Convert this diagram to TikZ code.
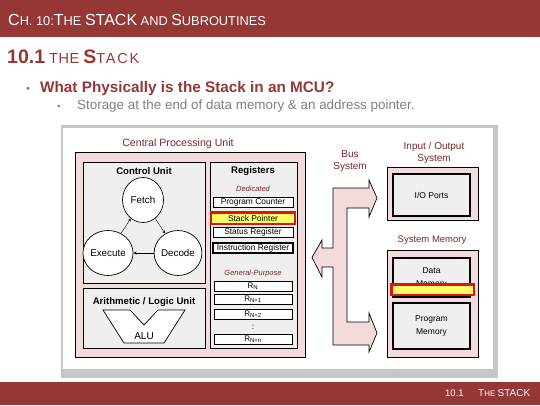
\documentclass[tikz,border=0pt]{standalone}
\usepackage{fontspec}
\setmainfont{Liberation Sans}
\usepackage{tikz}
\usetikzlibrary{shapes.geometric}
\definecolor{slidered}{RGB}{149,55,53}
\definecolor{labelred}{RGB}{118,42,42}
\definecolor{pinkfill}{RGB}{242,220,219}
\definecolor{panelgray}{RGB}{239,239,239}
\definecolor{hlyellow}{RGB}{255,255,102}
\definecolor{hlred}{RGB}{226,18,18}
\definecolor{subgray}{RGB}{127,127,127}
\newcommand{\capbig}[1]{{\fontsize{16}{18}\selectfont #1}}
\newcommand{\capsect}[1]{{\bfseries\fontsize{19.5}{20}\selectfont #1}}

\begin{document}
\begin{tikzpicture}[x=1pt,y=-1pt,
      every node/.style={inner sep=0pt,font=\fontsize{8.5}{13}\selectfont},
      pinkbox/.style={draw,fill=pinkfill,line width=0.7pt},
      panel/.style={draw,fill=panelgray,line width=0.7pt},
      membox/.style={draw,fill=panelgray,line width=1.1pt,minimum width=77pt,align=center},
      reg/.style={draw,fill=white,line width=0.7pt,minimum width=80pt,minimum height=10pt,
        font=\fontsize{8.4}{9}\selectfont},
      rgp/.style={reg,minimum width=78pt,font=\fontsize{8}{9}\selectfont},
      hilite/.style={draw=hlred,line width=2.5pt,fill=hlyellow},
      stage/.style={ellipse,draw,fill=white,line width=0.7pt,minimum width=41pt,minimum height=45pt,
        font=\fontsize{9.8}{11}\selectfont},
      heading/.style={text=labelred,font=\fontsize{10}{12}\selectfont,align=center},
      unittitle/.style={font=\bfseries\fontsize{9.6}{10}\selectfont},
      regkind/.style={text=labelred,font=\itshape\fontsize{7.5}{8}\selectfont},
      >=stealth]
  \useasboundingbox (0,0) rectangle (540,405);
  % slide header and footer
  \fill[slidered] (0,0) rectangle (540,37);
  \fill[slidered] (0,382) rectangle (540,405);
  \node[anchor=base west,text=white,font=\fontsize{12.8}{14}\selectfont] (title) at (8,25)
    {\capbig{C}H. 10:\capbig{T}HE \capbig{STACK} AND \capbig{S}UBROUTINES};
  \node[anchor=base west,text=slidered,font=\fontsize{14.5}{16}\selectfont] (sect) at (7,63)
    {\capsect{10.1} {\addfontfeature{LetterSpace=4}THE} \capsect{S}{\addfontfeature{LetterSpace=12}TACK}};
  \node[anchor=base,text=subgray,font=\fontsize{11}{12}\selectfont] (qdot) at (28,92) {\textbullet};
  \node[anchor=base west,text=slidered,font=\bfseries\fontsize{15.3}{16}\selectfont] (question) at (40,92)
    {What Physically is the Stack in an MCU?};
  \node[anchor=base,text=subgray,font=\fontsize{9}{10}\selectfont] (adot) at (59,109) {\textbullet};
  \node[anchor=base west,text=subgray,font=\fontsize{13.4}{14}\selectfont] (answer) at (77,109)
    {Storage at the end of data memory \& an address pointer.};
  \node[anchor=base west,text=white,font=\fontsize{9.5}{10}\selectfont] (ftnum) at (445,396) {10.1};
  \node[anchor=base west,text=white,font=\fontsize{8}{10}\selectfont] (fttitle) at (478,396)
    {{\fontsize{10}{10}\selectfont T}HE {\fontsize{10}{10}\selectfont STACK}};

  % picture frame
  \fill[gray!45] (61,125) rectangle (498,378);
  \fill[white] (63,128) rectangle (493,369);

  % CPU
  \node[heading,font=\fontsize{10.6}{12}\selectfont] (cpulbl) at (178,144) {Central Processing Unit};
  \draw[pinkbox] (75,152) rectangle (305,357);
  \draw[panel] (83,162) rectangle (205,283);
  \node[unittitle] (cutitle) at (144,171) {Control Unit};
  \node[stage] (fetch) at (143,200) {Fetch};
  \node[stage] (execute) at (108,253) {Execute};
  \node[stage] (decode) at (178,253) {Decode};
  \draw[->] (execute) -- (fetch);
  \draw[->] (fetch) -- (decode);
  \draw[->] (decode) -- (execute);

  \draw[panel] (83,288) rectangle (205,348);
  \node[unittitle] (alutitle) at (144,302) {Arithmetic / Logic Unit};
  \draw[fill=white,line width=0.7pt] (103,310) -- (130,310) -- (144,325) -- (158,310) -- (185,310)
    -- (164,343) -- (124,343) -- cycle;
  \node[font=\fontsize{10}{10}\selectfont] (alu) at (144,336) {ALU};

  \draw[panel] (210,162) rectangle (297,348);
  \node[unittitle] (regtitle) at (253,171) {Registers};
  \node[regkind] (dedicated) at (253,189) {Dedicated};
  \node[reg] (pc) at (253,202) {Program Counter};
  \node[reg,hilite,minimum width=84pt,minimum height=11.5pt] (sp) at (253,218) {Stack Pointer};
  \node[reg] (sr) at (253,232.5) {Status Register};
  \node[reg,line width=1.4pt] (ir) at (253,248) {Instruction Register};
  \node[regkind] (general) at (253,274) {General-Purpose};
  \node[rgp] (rn) at (253,286) {R\textsubscript{N}};
  \node[rgp] (rn1) at (253,299.5) {R\textsubscript{N+1}};
  \node[rgp] (rn2) at (253,314) {R\textsubscript{N+2}};
  \node[font=\fontsize{8}{8}\selectfont] (rdots) at (253,327) {:};
  \node[rgp] (rnn) at (253,339) {R\textsubscript{N+n}};

  % bus
  \node[heading] (buslbl) at (350,161.5) {Bus\\System};
  \draw[pinkbox] (333,188) -- (369,188) -- (369,180) -- (377,198) -- (369,217) -- (369,208)
    -- (347,208) -- (347,322) -- (369,322) -- (369,313) -- (377,333) -- (369,352) -- (369,345)
    -- (333,345) -- (333,267) -- (322,267) -- (322,277) -- (312,257.5) -- (322,240) -- (322,248)
    -- (333,248) -- cycle;

  % I/O and memory
  \node[heading] (iolbl) at (434,152.5) {Input / Output\\System};
  \draw[pinkbox] (387,167) rectangle (478,220);
  \node[membox,minimum height=42pt] (ioports) at (431.5,195) {I/O Ports};
  \node[heading,font=\fontsize{9.5}{12}\selectfont] (memlbl) at (432,240) {System Memory};
  \draw[pinkbox] (387,250) rectangle (478,357);
  \node[membox,minimum height=39pt] (datamem) at (431.5,277.5) {Data\\Memory};
  \node[membox,minimum height=46pt] (progmem) at (431.5,326) {Program\\Memory};
  \node[hilite,minimum width=82.5pt,minimum height=10.5pt] (stackarea) at (432.5,289.5) {};
\end{tikzpicture}
\end{document}
